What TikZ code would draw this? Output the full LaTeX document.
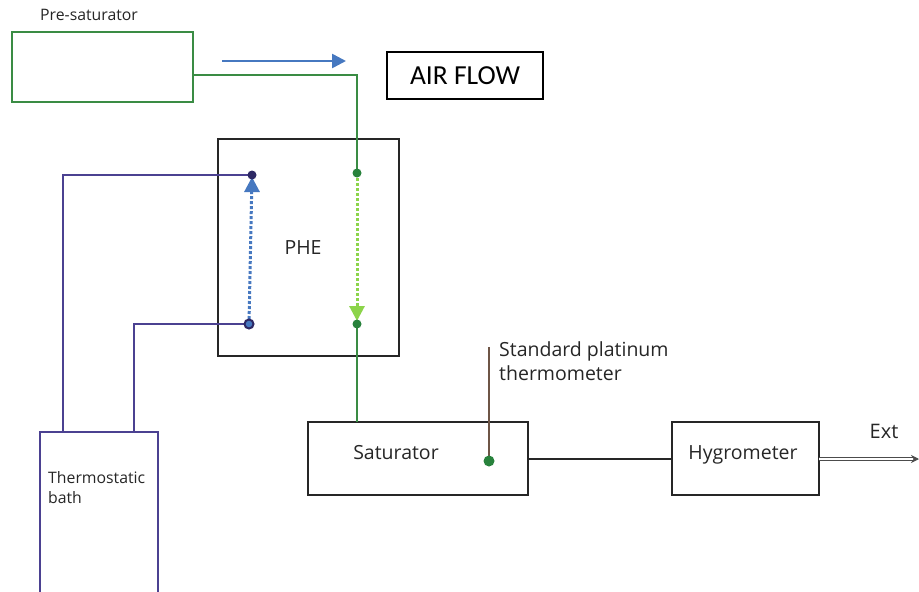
\documentclass[tikz,border=0pt]{standalone}
\usepackage{fontspec}
\setmainfont{Open Sans}
\newfontfamily\calib{Carlito}
\usetikzlibrary{arrows.meta,calc}
\definecolor{pipegreen}{RGB}{58,140,68}
\definecolor{dotgreen}{RGB}{40,130,60}
\definecolor{lightgreen}{RGB}{140,212,74}
\definecolor{flowblue}{RGB}{70,120,192}
\definecolor{bathpurple}{RGB}{75,65,145}
\definecolor{dotpurple}{RGB}{45,40,100}
\definecolor{probebrown}{RGB}{110,85,70}
\begin{document}
\begin{tikzpicture}[x=1pt,y=-1pt,
  lbl/.style={font=\fontsize{19.5}{24}\selectfont,text=black!85,inner sep=0pt},
  greenpipe/.style={draw=pipegreen,line width=2.4pt},
  purplepipe/.style={draw=bathpurple,line width=2.4pt},
  gdot/.style={circle,fill=dotgreen,inner sep=0pt,minimum size=9pt},
  pdot/.style={circle,fill=dotpurple,inner sep=0pt,minimum size=9pt}]
\useasboundingbox (0,0) rectangle (919,592);
% boxes
\node[draw=pipegreen,line width=2.4pt,minimum width=181pt,minimum height=70pt,inner sep=0pt] (pre) at (102.5,67) {};
\node[lbl,anchor=west,font=\fontsize{15.8}{18}\selectfont] (prelbl) at (40,15) {Pre-saturator};
\node[draw=black,line width=1.6pt,minimum width=156pt,minimum height=47pt,inner sep=0pt,font=\calib\fontsize{27.5}{30}\selectfont] (air) at (465,75.5) {AIR FLOW};
\node[draw=black!85,line width=2.4pt,minimum width=181pt,minimum height=217pt,inner sep=0pt] (phe) at (308.5,247.5) {};
\node[lbl] (phelbl) at (303,248) {PHE};
\node[draw=black!85,line width=2.4pt,minimum width=220pt,minimum height=73pt,inner sep=0pt] (sat) at (418,458.5) {};
\node[lbl] (satlbl) at (396,453) {Saturator};
\node[draw=black!85,line width=2.4pt,minimum width=147pt,minimum height=73pt,inner sep=0pt] (hyg) at (745.5,458.5) {};
\node[lbl] (hyglbl) at (743,455) {Hygrometer};
\node[draw=bathpurple,line width=2.4pt,minimum width=118pt,minimum height=164pt,inner sep=0pt] (bath) at (99,514) {};
\node[lbl,anchor=north west,align=left,font=\fontsize{15.8}{20}\selectfont] (bathlbl) at (48,471) {Thermostatic\\bath};
\node[lbl,anchor=north west,align=left] (thlbl) at (499,341) {Standard platinum\\thermometer};
\node[lbl,font=\fontsize{20}{24}\selectfont] (extlbl) at (884,431) {Ext};
% coordinates
\coordinate (g1) at (357,75);
\coordinate (gt) at (357,173);
\coordinate (gb) at (357,324);
\coordinate (gs) at (357,422);
\coordinate (pt) at (252,175);
\coordinate (pb) at (249,324);
\coordinate (p1) at (63,175);
\coordinate (p2) at (63,432);
\coordinate (p3) at (134,324);
\coordinate (p4) at (134,432);
\coordinate (thtop) at (489,347);
\coordinate (thend) at (489,461);
\coordinate (sr) at (528,459);
\coordinate (hl) at (672,459);
\coordinate (hr) at (819,459);
\coordinate (ext) at (919,459);
\coordinate (fa) at (222,61);
\coordinate (fb) at (346,61);
% air flow arrow
\draw[draw=flowblue,line width=2.6pt,-{Triangle[length=14pt,width=14pt]}] (fa) -- (fb);
% green air line
\draw[greenpipe] (pre.east |- g1) -- (g1) -- (gt);
\draw[draw=lightgreen,line width=3pt,dotted,shorten >=12pt] (gt) -- (gb);
\draw[draw=lightgreen,line width=3pt,-{Triangle[length=15pt,width=15pt]}] ($(gb)+(0,-19)$) -- ($(gb)+(0,-3)$);
\draw[greenpipe] (gb) -- (gs);
\node[gdot] (gdt) at (gt) {};
\node[gdot] (gdb) at (gb) {};
% purple bath lines
\draw[purplepipe] (pt) -- (p1) -- (p2);
\draw[purplepipe] (pb) -- (p3) -- (p4);
\draw[draw=flowblue,line width=3pt,dotted,shorten >=12pt] (pb) -- (pt);
\draw[draw=flowblue,line width=3pt,-{Triangle[length=15pt,width=15pt]}] ($(pt)+(0,17)$) -- ($(pt)+(0,2)$);
\node[pdot] (pdt) at (pt) {};
\node[circle,draw=dotpurple,line width=2pt,fill=flowblue,inner sep=0pt,minimum size=9pt] (pdb) at (pb) {};
% thermometer
\draw[draw=probebrown,line width=2.4pt] (thtop) -- (thend);
\node[gdot,minimum size=11pt] (thdot) at (thend) {};
% connections
\draw[draw=black!85,line width=2.4pt] (sr) -- (hl);
\draw[draw=black!70,line width=1pt,double=white,double distance=1.8pt,-{Stealth[length=8pt,width=8pt]}] (hr) -- (ext);
\end{tikzpicture}
\end{document}
